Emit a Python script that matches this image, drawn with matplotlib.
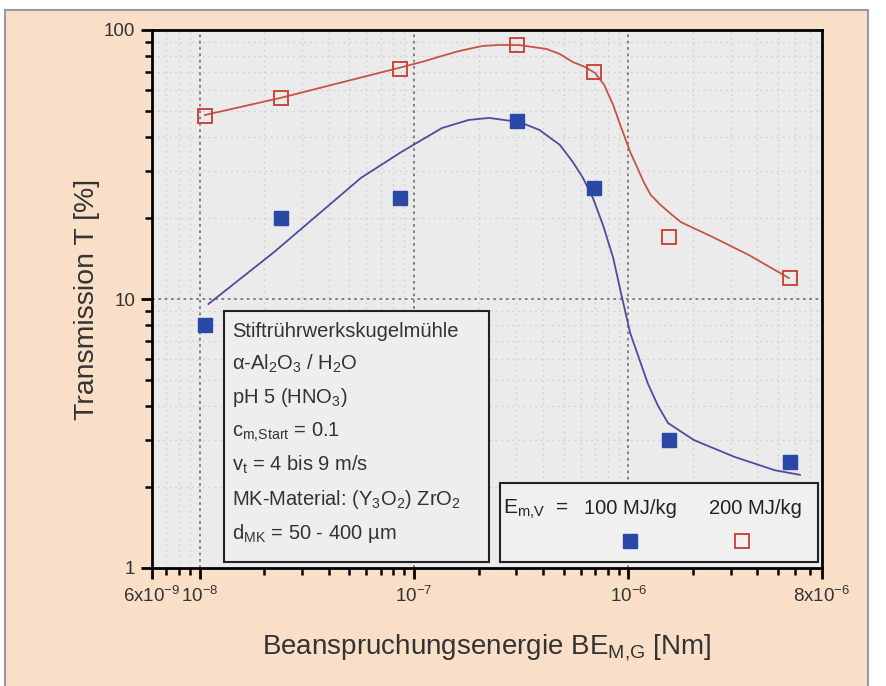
import matplotlib
matplotlib.use('Agg')
import matplotlib.pyplot as plt
from matplotlib.patches import Rectangle
from matplotlib.ticker import FixedLocator, FixedFormatter, NullFormatter, LogLocator

plt.rcParams['font.family'] = ['Liberation Sans', 'DejaVu Sans']
plt.rcParams['mathtext.fontset'] = 'custom'
plt.rcParams['mathtext.rm'] = 'Liberation Sans'
plt.rcParams['mathtext.it'] = 'Liberation Sans:italic'
plt.rcParams['mathtext.bf'] = 'Liberation Sans:bold'
plt.rcParams['mathtext.default'] = 'regular'

# ---------------- data ----------------
energy = [1.06e-8, 2.4e-8, 8.6e-8, 3.04e-7, 6.9e-7, 1.54e-6, 5.66e-6]
trans_100 = [8.0, 20.0, 23.7, 45.9, 25.9, 3.0, 2.48]
trans_200 = [47.9, 55.9, 71.6, 88.0, 69.8, 17.0, 12.0]

fit_100_x = [1.10e-8, 2.23e-8, 5.66e-8, 8.73e-8, 1.35e-7, 1.80e-7, 2.24e-7, 3.10e-7,
             3.85e-7, 4.79e-7, 5.51e-7, 6.14e-7, 6.84e-7, 7.62e-7, 8.50e-7, 9.17e-7,
             1.02e-6, 1.23e-6, 1.37e-6, 1.53e-6, 2.02e-6, 3.12e-6, 4.81e-6, 6.31e-6]
fit_100_y = [9.58, 14.96, 28.2, 35.2, 43.2, 46.3, 47.1, 45.5,
             42.5, 37.4, 32.3, 28.2, 23.7, 18.8, 14.2, 10.8,
             7.47, 4.87, 4.03, 3.46, 2.99, 2.59, 2.31, 2.22]

fit_200_x = [1.06e-8, 2.38e-8, 8.45e-8, 1.13e-7, 1.30e-7, 1.62e-7, 2.08e-7, 2.50e-7,
             3.10e-7, 4.16e-7, 4.79e-7, 5.51e-7, 6.28e-7, 7.0e-7, 7.71e-7, 8.50e-7,
             9.17e-7, 1.02e-6, 1.18e-6, 1.27e-6, 1.41e-6, 1.58e-6, 1.76e-6, 2.51e-6,
             3.63e-6, 5.60e-6]
fit_200_y = [48.3, 55.9, 72.2, 76.7, 79.4, 83.5, 87.2, 88.0,
             87.9, 85.0, 81.4, 76.0, 72.9, 69.2, 62.5, 52.6,
             44.3, 35.2, 27.2, 24.4, 22.4, 20.7, 19.3, 16.9,
             14.6, 11.97]

xtick_values = [6e-9, 1e-8, 1e-7, 1e-6, 8e-6]
xtick_labels = ['$\\mathregular{6x10^{-9}}$', '$\\mathregular{10^{-8}}$',
                '$\\mathregular{10^{-7}}$', '$\\mathregular{10^{-6}}$',
                '$\\mathregular{8x10^{-6}}$']
ytick_values = [1, 10, 100]
ytick_labels = ['1', '10', '100']

info_lines = ['Stiftrührwerkskugelmühle',
              'α-Al$_2$O$_3$ / H$_2$O',
              'pH 5 (HNO$_3$)',
              'c$_{m{,}Start}$ = 0.1',
              'v$_t$ = 4 bis 9 m/s',
              'MK-Material: (Y$_3$O$_2$) ZrO$_2$',
              'd$_{MK}$ = 50 - 400 µm']
legend_title = 'E$_{m{,}V}$  ='
legend_labels = ['100 MJ/kg', '200 MJ/kg']

# ---------------- style ----------------
peach = '#F9DFC8'
plotbg = '#EBEBEB'
blue = '#2A48A6'
blue_line = '#4A4E9E'
red = '#C9483C'
red_line = '#C45545'
txt = '#333333'

W, H = 886, 686
fig = plt.figure(figsize=(W / 100, H / 100), dpi=100)
fig.patch.set_facecolor('white')
fig.patches.append(Rectangle((5 / W, -0.01), (868 - 5) / W, 1 - 10 / H + 0.01,
                             transform=fig.transFigure, facecolor=peach,
                             edgecolor='#9a9a9a', linewidth=1.5, zorder=-10))

ax = fig.add_axes([152 / W, 1 - 568 / H, (822 - 152) / W, (568 - 30) / H])
ax.set_facecolor(plotbg)
ax.set_xscale('log')
ax.set_yscale('log')
ax.set_xlim(6e-9, 8e-6)
ax.set_ylim(1, 100)

# ticks
ax.xaxis.set_major_locator(FixedLocator(xtick_values))
ax.xaxis.set_major_formatter(FixedFormatter(xtick_labels))
ax.xaxis.set_minor_locator(LogLocator(base=10, subs=[2, 3, 4, 5, 6, 7, 8, 9], numticks=20))
ax.xaxis.set_minor_formatter(NullFormatter())
ax.yaxis.set_major_locator(FixedLocator(ytick_values))
ax.yaxis.set_major_formatter(FixedFormatter(ytick_labels))
ax.yaxis.set_minor_locator(LogLocator(base=10, subs=[2, 3, 4, 5, 6, 7, 8, 9], numticks=20))
ax.yaxis.set_minor_formatter(NullFormatter())

# grid
ax.grid(which='minor', color='#d2d2d2', linestyle=(0, (1.5, 3)), linewidth=0.9)
for v in [1e-8, 1e-7, 1e-6]:
    ax.axvline(v, color='#7a7a7a', linestyle=(0, (1.5, 2)), linewidth=1.3, zorder=1)
ax.axhline(10, color='#7a7a7a', linestyle=(0, (1.5, 2)), linewidth=1.3, zorder=1)
ax.set_axisbelow(True)

# curves and points
ax.plot(fit_100_x, fit_100_y, color=blue_line, linewidth=1.3, zorder=3,
        solid_joinstyle='round')
ax.plot(fit_200_x, fit_200_y, color=red_line, linewidth=1.3, zorder=3,
        solid_joinstyle='round')
ax.plot(energy, trans_100, linestyle='none', marker='s', markersize=9.5,
        markerfacecolor=blue, markeredgecolor=blue, zorder=4)
ax.plot(energy, trans_200, linestyle='none', marker='s', markersize=10,
        markerfacecolor='none', markeredgecolor=red, markeredgewidth=1.4, zorder=4)

# axes styling
for s in ax.spines.values():
    s.set_linewidth(2)
    s.set_color('black')
ax.tick_params(which='major', direction='out', length=8, width=2, color='black',
               labelsize=13.5, labelcolor=txt, pad=4)
ax.tick_params(which='minor', direction='out', length=5, width=1.8, color='black')
ax.tick_params(axis='x', which='major', pad=5)

ax.set_xlabel('Beanspruchungsenergie BE$_{M{,}G}$ [Nm]', fontsize=20, color=txt, labelpad=19)
ax.set_ylabel('Transmission T [%]', fontsize=20.5, color=txt, labelpad=3)

# info box
ax.add_patch(Rectangle((0.1075, 0.011), 0.3955, 0.4665, transform=ax.transAxes,
                       facecolor='#EEEEEE', edgecolor='#222222', linewidth=1.5, zorder=5))
info_y = [0.4294, 0.3680, 0.3067, 0.2435, 0.1803, 0.1171, 0.0539]
for line, yy in zip(info_lines, info_y):
    ax.text(0.1194, yy, line, transform=ax.transAxes, fontsize=14.5, color=txt,
            va='baseline', ha='left', zorder=6)

# legend box
ax.add_patch(Rectangle((0.5194, 0.011), 0.4746, 0.1468, transform=ax.transAxes,
                       facecolor='#F0F0F0', edgecolor='#222222', linewidth=1.5, zorder=5))
ax.text(0.524, 0.1004, legend_title, transform=ax.transAxes, fontsize=15,
        color='#222222', va='baseline', ha='left', zorder=6)
ax.text(0.6455, 0.1004, legend_labels[0], transform=ax.transAxes, fontsize=14.5,
        color='#222222', va='baseline', ha='left', zorder=6)
ax.text(0.832, 0.1004, legend_labels[1], transform=ax.transAxes, fontsize=14.5,
        color='#222222', va='baseline', ha='left', zorder=6)
ax.plot([0.7134], [0.0502], transform=ax.transAxes, marker='s', markersize=9.5,
        markerfacecolor=blue, markeredgecolor=blue, linestyle='none', zorder=7)
ax.plot([0.8806], [0.0502], transform=ax.transAxes, marker='s', markersize=10,
        markerfacecolor='none', markeredgecolor=red, markeredgewidth=1.4,
        linestyle='none', zorder=7)

fig.savefig('out.png', dpi=100, facecolor=fig.get_facecolor())
